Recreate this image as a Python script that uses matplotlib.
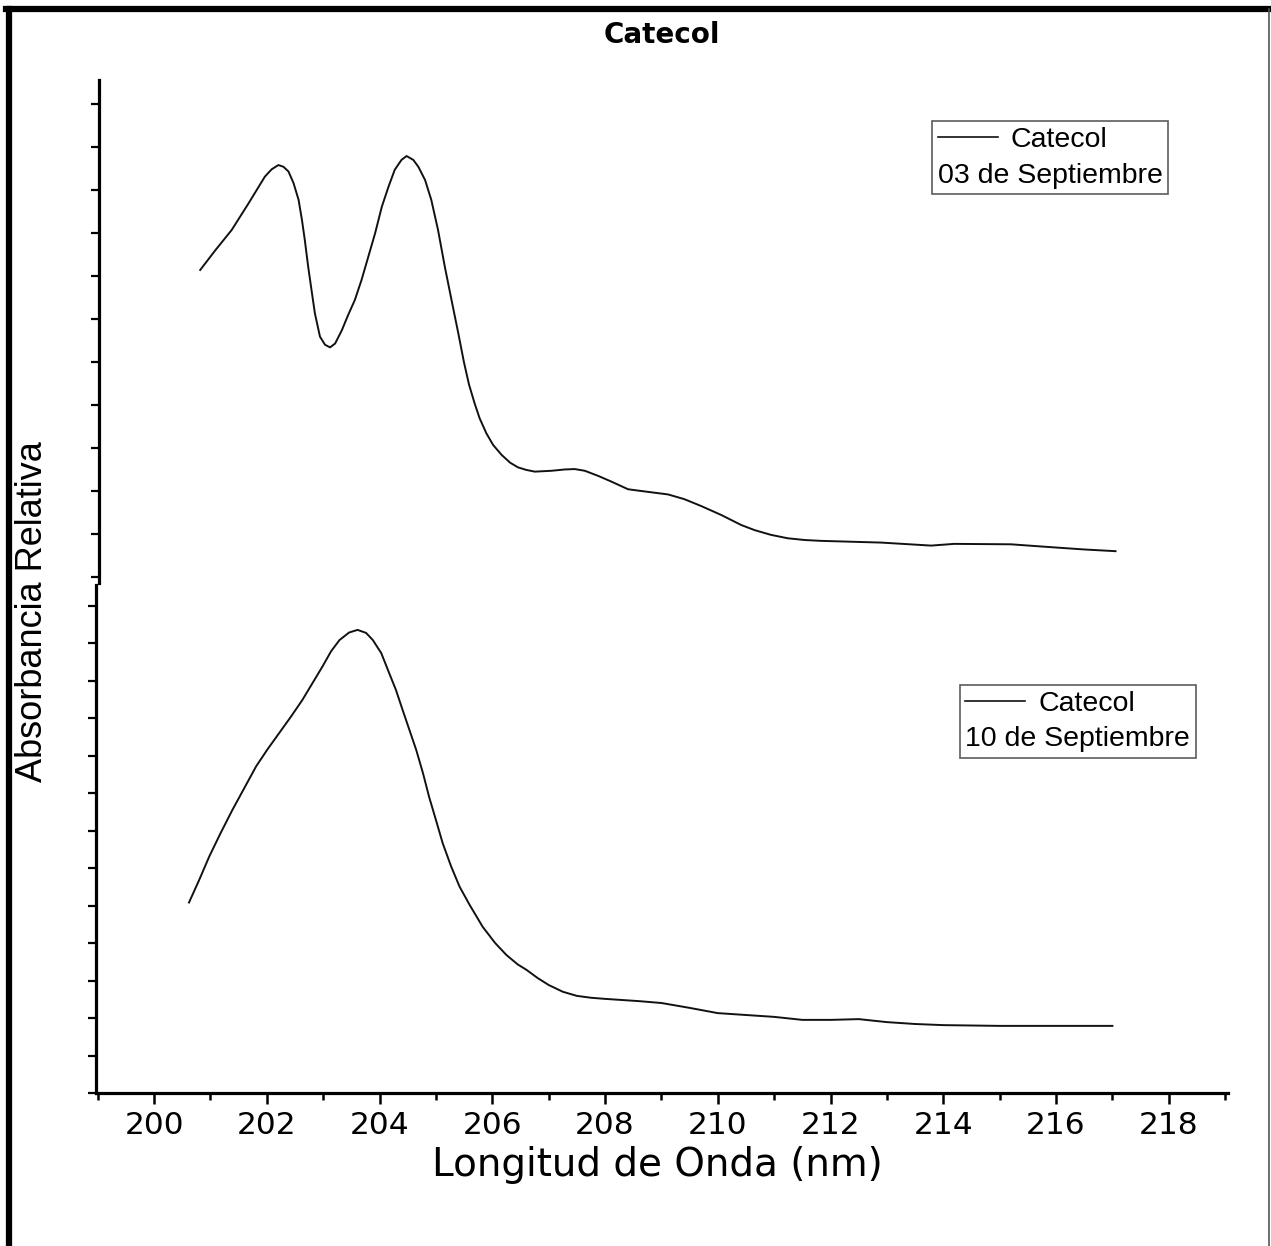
import numpy as np
import matplotlib
matplotlib.use("Agg")
import matplotlib.pyplot as plt
from matplotlib.lines import Line2D
from matplotlib.ticker import MultipleLocator

# ---- data (relative absorbance, arbitrary units) ----
wl_sep03 = [200.77, 201.04, 201.33, 201.63, 201.92, 202.04, 202.16, 202.25, 202.34, 202.43,
            202.52, 202.58, 202.63, 202.69, 202.75, 202.81, 202.90, 202.99, 203.08, 203.17,
            203.29, 203.40, 203.52, 203.64, 203.76, 203.88, 204.00, 204.12, 204.23, 204.35,
            204.44, 204.56, 204.65, 204.77, 204.88, 205.00, 205.12, 205.24, 205.36, 205.46,
            205.55, 205.65, 205.74, 205.86, 205.98, 206.13, 206.28, 206.42, 206.57, 206.72,
            207.02, 207.25, 207.43, 207.61, 207.85, 208.08, 208.38, 208.73, 209.09, 209.38,
            209.68, 210.04, 210.39, 210.63, 210.92, 211.22, 211.52, 211.81, 212.88, 213.77,
            214.18, 215.19, 215.72, 216.49, 217.05]
abs_sep03 = [0.814, 0.860, 0.907, 0.969, 1.031, 1.048, 1.058, 1.054, 1.043, 1.016,
             0.977, 0.930, 0.884, 0.822, 0.767, 0.713, 0.659, 0.640, 0.634, 0.643,
             0.674, 0.709, 0.744, 0.791, 0.845, 0.899, 0.961, 1.008, 1.047, 1.070,
             1.079, 1.070, 1.054, 1.023, 0.977, 0.907, 0.822, 0.744, 0.667, 0.600,
             0.548, 0.504, 0.469, 0.434, 0.407, 0.384, 0.366, 0.355, 0.349, 0.345,
             0.347, 0.350, 0.351, 0.347, 0.335, 0.322, 0.304, 0.298, 0.292, 0.281,
             0.265, 0.244, 0.221, 0.209, 0.198, 0.190, 0.186, 0.184, 0.180, 0.173,
             0.177, 0.176, 0.171, 0.164, 0.160]

wl_sep10 = [200.62, 200.80, 200.98, 201.18, 201.39, 201.60, 201.81, 202.01, 202.22, 202.43,
            202.63, 202.81, 202.99, 203.14, 203.29, 203.46, 203.61, 203.76, 203.88, 204.03,
            204.17, 204.29, 204.41, 204.53, 204.65, 204.77, 204.88, 205.00, 205.12, 205.27,
            205.42, 205.60, 205.83, 206.05, 206.25, 206.45, 206.61, 206.80, 207.00, 207.25,
            207.50, 207.75, 208.00, 208.60, 209.00, 209.50, 210.00, 210.50, 211.00, 211.50,
            212.00, 212.50, 213.00, 213.50, 214.00, 215.00, 216.00, 217.00]
abs_sep10 = [0.508, 0.568, 0.631, 0.693, 0.755, 0.813, 0.871, 0.916, 0.960, 1.004,
             1.048, 1.093, 1.138, 1.178, 1.208, 1.228, 1.235, 1.227, 1.208, 1.173,
             1.120, 1.075, 1.021, 0.968, 0.915, 0.853, 0.789, 0.728, 0.666, 0.604,
             0.550, 0.501, 0.443, 0.400, 0.368, 0.343, 0.328, 0.307, 0.288, 0.270,
             0.259, 0.254, 0.251, 0.245, 0.240, 0.227, 0.213, 0.208, 0.203, 0.195,
             0.195, 0.197, 0.189, 0.184, 0.181, 0.179, 0.179, 0.179]

series_label = "Catecol"
date_labels = ["03 de Septiembre", "10 de Septiembre"]
title_text = "Catecol"
xlabel_text = "Longitud de Onda (nm)"
ylabel_text = "Absorbancia Relativa"
x_major_ticks = [200, 202, 204, 206, 208, 210, 212, 214, 216, 218]

# ---- figure ----
W, H = 1271, 1246
fig = plt.figure(figsize=(W / 100, H / 100), dpi=100)
fig.patch.set_facecolor("white")


def rect(l, t, r, b):
    return [l / W, 1 - b / H, (r - l) / W, (b - t) / H]


ax1 = fig.add_axes(rect(99, 80, 1228, 583))
ax2 = fig.add_axes(rect(96, 585, 1228, 1093))

line_kw = dict(color="#111111", lw=1.4, solid_joinstyle="round")
ax1.plot(wl_sep03, abs_sep03, **line_kw)
ax2.plot(wl_sep10, abs_sep10, **line_kw)

for ax in (ax1, ax2):
    ax.set_xlim(198.97, 219.05)
    ax.set_facecolor("none")
    for s in ("top", "right"):
        ax.spines[s].set_visible(False)
    ax.spines["left"].set_linewidth(2.3)
    ax.tick_params(axis="y", direction="out", length=6, width=1.6, labelleft=False)

ax1.set_ylim(0.086, 1.2558)
ax1.yaxis.set_major_locator(MultipleLocator(0.1))
ax1.spines["bottom"].set_visible(False)
ax1.tick_params(axis="x", bottom=False, labelbottom=False)

ax2.set_ylim(0.0, 1.3547)
ax2.yaxis.set_major_locator(MultipleLocator(0.1))
ax2.spines["bottom"].set_linewidth(2.3)
ax2.set_xticks(x_major_ticks)
ax2.xaxis.set_minor_locator(MultipleLocator(1))
ax2.tick_params(axis="x", which="major", direction="out", length=8, width=1.8,
                labelsize=22.5, pad=5)
ax2.tick_params(axis="x", which="minor", direction="out", length=5, width=1.8)
for lab in ax2.get_xticklabels():
    lab.set_family("DejaVu Sans")

fig.text(657 / W, 1 - 1165 / H, xlabel_text, ha="center", va="center",
         fontsize=28, family="DejaVu Sans")
fig.text(33 / W, 1 - 612 / H, ylabel_text, ha="center", va="center", rotation=90,
         fontsize=26, family="Liberation Sans")
fig.text(662 / W, 1 - 35 / H, title_text, ha="center", va="center",
         fontsize=20, fontweight="bold", family="DejaVu Sans")


def make_legend(ax, date, anchor):
    h = Line2D([], [], color="#111111", lw=1.2)
    leg = ax.legend([h], [series_label], title=date, loc="upper left",
                    bbox_to_anchor=anchor, borderaxespad=0, frameon=True,
                    fancybox=False, shadow=False, handlelength=2.1,
                    handletextpad=0.45, borderpad=0.2,
                    prop={"family": "Liberation Sans", "size": 20.5},
                    title_fontproperties={"family": "Liberation Sans", "size": 20.5})
    leg.get_frame().set_edgecolor("#333333")
    leg.get_frame().set_linewidth(1.2)
    leg.set_alignment("left")
    # place the date line under the entry line
    box = leg._legend_box
    box._children = box._children[::-1]
    box.sep = 7
    return leg


make_legend(ax1, date_labels[0], (0.738, 0.918))
make_legend(ax2, date_labels[1], (0.763, 0.803))

# outer frame of the original picture
fig.add_artist(Line2D([6 / W, 1268 / W], [1 - 9 / H, 1 - 9 / H], color="black", lw=4.5,
                      transform=fig.transFigure))
fig.add_artist(Line2D([9 / W, 9 / W], [0, 1 - 9 / H], color="black", lw=4.5,
                      transform=fig.transFigure))
fig.add_artist(Line2D([1268.5 / W, 1268.5 / W], [0, 1 - 9 / H], color="#555555", lw=1.2,
                      transform=fig.transFigure))

fig.savefig("out.png", dpi=100)
